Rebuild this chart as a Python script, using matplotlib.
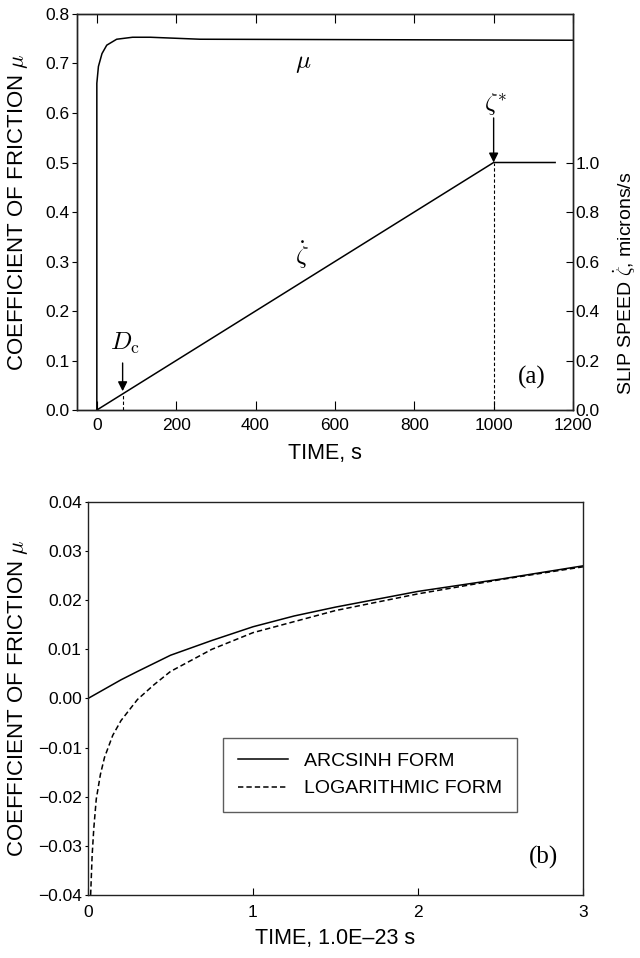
import matplotlib
matplotlib.use("Agg")
import matplotlib.pyplot as plt

# ---- data ----
# (a) friction coefficient vs time
mu_time = [0, 0, 4, 13, 25, 50, 90, 135, 260, 1200]
mu_vals = [0.0, 0.66, 0.694, 0.72, 0.737, 0.749, 0.753, 0.753, 0.749, 0.747]

# (a) imposed slip speed, microns/s
slip_time = [0, 1000, 1155]
slip_vals = [0.0, 1.0, 1.0]

dc_time = 65
zeta_star_time = 1000

# (b) arcsinh vs logarithmic form
arc_time = [0, 0.1, 0.2, 0.3, 0.5, 0.75, 1.0, 1.25, 1.5, 2.0, 2.5, 3.0]
arc_vals = [0.0, 0.0019, 0.0038, 0.0055, 0.0088, 0.0118, 0.0146, 0.0168,
            0.0186, 0.0218, 0.0243, 0.027]

log_time = [0.016, 0.025, 0.035, 0.05, 0.075, 0.1, 0.15, 0.2, 0.3, 0.4,
            0.5, 0.75, 1.0, 1.5, 2.0, 2.5, 3.0]
log_vals = [-0.04, -0.032, -0.0265, -0.0205, -0.0155, -0.012, -0.0075,
            -0.0045, -0.0002, 0.0028, 0.0055, 0.0100, 0.0134, 0.0179,
            0.0213, 0.0242, 0.0268]

a_xticks = [0, 200, 400, 600, 800, 1000, 1200]
a_yticks = [0.0, 0.1, 0.2, 0.3, 0.4, 0.5, 0.6, 0.7, 0.8]
a_rticks = [0.0, 0.2, 0.4, 0.6, 0.8, 1.0]
b_xticks = [0, 1, 2, 3]
b_yticks = [-0.04, -0.03, -0.02, -0.01, 0.0, 0.01, 0.02, 0.03, 0.04]

plt.rcParams["font.family"] = ["Liberation Sans", "DejaVu Sans"]
plt.rcParams["mathtext.fontset"] = "cm"
plt.rcParams["axes.linewidth"] = 1.0
plt.rcParams["axes.edgecolor"] = "#222222"

fig = plt.figure(figsize=(6.4, 9.58), dpi=100)

# ---------- panel (a) ----------
ax = fig.add_axes([0.1203, 0.572, 0.775, 0.4134])
ax.plot(mu_time, mu_vals, color="k", lw=1.1)
ax.set_xlim(-50, 1200)
ax.set_ylim(0, 0.8)
ax.set_xticks(a_xticks)
ax.set_yticks(a_yticks)
ax.set_yticklabels([f"{v:.1f}" for v in a_yticks])
ax.tick_params(axis="x", direction="in", top=True, length=6.5, labelsize=12.5,
               pad=6)
ax.tick_params(axis="y", direction="out", length=3.5, labelsize=12.5, pad=2)
ax.set_xlabel("TIME, s", fontsize=15.5, labelpad=7)
ax.set_ylabel(r"COEFFICIENT OF FRICTION $\mu$", fontsize=16)
ax.yaxis.set_label_coords(-0.095, 0.5)

ax2 = ax.twinx()
ax2.plot(slip_time, slip_vals, color="k", lw=1.1)
ax2.set_ylim(0, 1.6)
ax2.set_yticks(a_rticks)
ax2.set_yticklabels([f"{v:.1f}" for v in a_rticks])
ax2.tick_params(axis="y", direction="in", length=5, labelsize=12.5, pad=2)
ax2.set_ylabel(r"SLIP SPEED $\dot{\zeta}$, microns/s", fontsize=14)
ax2.yaxis.set_label_coords(1.078, 0.32)

# dashed guides
ax2.plot([zeta_star_time, zeta_star_time], [0, 1.0], color="k", lw=0.8,
         ls=(0, (3, 2)))
ax2.plot([dc_time, dc_time], [0, dc_time / 1000], color="k", lw=0.8,
         ls=(0, (3, 2)))

arrow = dict(arrowstyle="-|>", color="k", lw=1.0, mutation_scale=14,
             shrinkA=0, shrinkB=0)
ax2.annotate("", xy=(dc_time, 0.076), xytext=(dc_time, 0.19),
             arrowprops=arrow)
ax2.text(72, 0.27, r"$D_{\mathrm{c}}$", fontsize=18, ha="center", va="center")
ax2.annotate("", xy=(zeta_star_time, 1.0), xytext=(zeta_star_time, 1.18),
             arrowprops=arrow)
ax2.text(1005, 1.235, r"$\zeta^{*}$", fontsize=18, ha="center", va="center")

ax.text(519, 0.70, r"$\mu$", fontsize=18, ha="center", va="center")
ax.text(517, 0.313, r"$\dot{\zeta}$", fontsize=18, ha="center", va="center")
ax.text(1097, 0.065, "(a)", fontsize=18, ha="center", va="center",
        family=["Liberation Serif", "DejaVu Serif"])

# ---------- panel (b) ----------
bx = fig.add_axes([0.1375, 0.0658, 0.7734, 0.4102])
bx.plot(arc_time, arc_vals, color="k", lw=1.1, label="ARCSINH FORM")
bx.plot(log_time, log_vals, color="k", lw=1.1, ls=(0, (3.5, 2)),
        label="LOGARITHMIC FORM")
bx.set_xlim(0, 3)
bx.set_ylim(-0.04, 0.04)
bx.set_xticks(b_xticks)
bx.set_yticks(b_yticks)
bx.set_yticklabels([f"{v:.2f}".replace("-", "\u2212") for v in b_yticks])
bx.tick_params(axis="x", direction="in", length=5, labelsize=12.5, pad=7)
bx.tick_params(axis="y", direction="out", length=2.5, labelsize=12.5, pad=2)
bx.set_xlabel("TIME, 1.0E\u201323 s", fontsize=15.5, labelpad=6)
bx.set_ylabel(r"COEFFICIENT OF FRICTION $\mu$", fontsize=16)
bx.yaxis.set_label_coords(-0.117, 0.5)

leg = bx.legend(loc="lower left", bbox_to_anchor=(0.273, 0.211),
                fontsize=14, frameon=True, fancybox=False, handlelength=2.6,
                borderpad=0.75, labelspacing=0.5, borderaxespad=0)
leg.get_frame().set_edgecolor("#333333")
leg.get_frame().set_linewidth(1.0)

bx.text(2.76, -0.0323, "(b)", fontsize=18, ha="center", va="center",
        family=["Liberation Serif", "DejaVu Serif"])

fig.savefig("out.png", dpi=100)
